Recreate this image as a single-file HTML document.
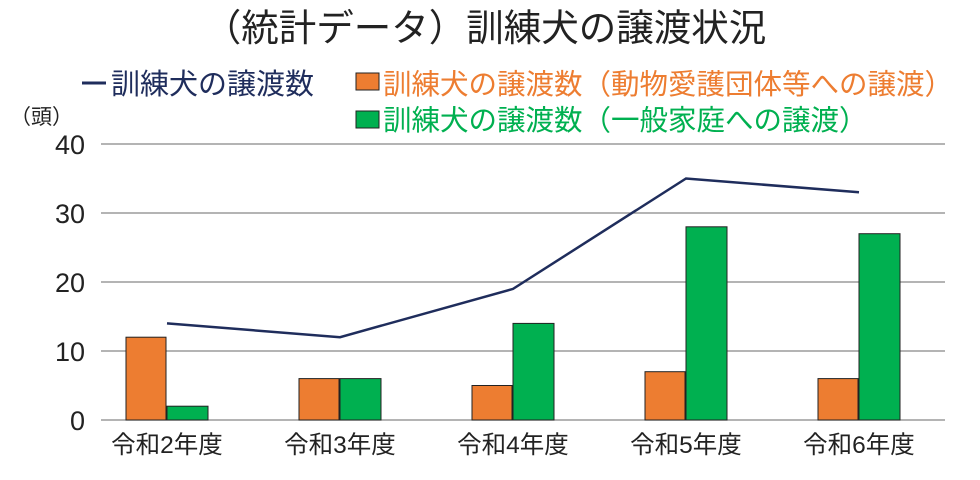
<!DOCTYPE html>
<html><head><meta charset="utf-8"><style>
body{margin:0;background:#fff;width:980px;height:475px;overflow:hidden}
svg text{font-family:"Liberation Sans","Noto Sans CJK JP",sans-serif}
</style></head><body>
<svg width="980" height="475" xmlns="http://www.w3.org/2000/svg">
<text x="485" y="41" font-size="37.5" text-anchor="middle" fill="#222">（統計データ）訓練犬の譲渡状況</text>
<line x1="82" y1="83" x2="106" y2="83" stroke="#1f2d5c" stroke-width="3"/>
<text x="111" y="94" font-size="29" fill="#1f2d5c">訓練犬の譲渡数</text>
<rect x="356" y="73" width="23" height="17" fill="#ed7d31" stroke="#222" stroke-width="1"/>
<text x="383" y="94" font-size="28.5" fill="#ed7d31">訓練犬の譲渡数（動物愛護団体等への譲渡）</text>
<rect x="356" y="111" width="23" height="17" fill="#00b050" stroke="#222" stroke-width="1"/>
<text x="383" y="130" font-size="28.5" fill="#00b050">訓練犬の譲渡数（一般家庭への譲渡）</text>
<text x="10" y="124" font-size="21" fill="#222">（頭）</text>
<g stroke="#888" stroke-width="1.3">
<line x1="101" y1="144" x2="945" y2="144"/><line x1="101" y1="213" x2="945" y2="213"/>
<line x1="101" y1="282" x2="945" y2="282"/><line x1="101" y1="351" x2="945" y2="351"/>
<line x1="101" y1="420" x2="945" y2="420"/></g>
<g font-size="27" fill="#222" text-anchor="end">
<text x="85" y="154">40</text><text x="85" y="223">30</text><text x="85" y="292">20</text><text x="85" y="361">10</text><text x="85" y="430">0</text></g>
<g stroke="#222" stroke-width="1">
<rect x="126" y="337.2" width="40" height="82.8" fill="#ed7d31"/><rect x="167" y="406.2" width="41" height="13.8" fill="#00b050"/>
<rect x="299" y="378.6" width="40" height="41.4" fill="#ed7d31"/><rect x="340" y="378.6" width="41" height="41.4" fill="#00b050"/>
<rect x="472" y="385.5" width="40" height="34.5" fill="#ed7d31"/><rect x="513" y="323.4" width="41" height="96.6" fill="#00b050"/>
<rect x="645" y="371.7" width="40" height="48.3" fill="#ed7d31"/><rect x="686" y="226.8" width="41" height="193.2" fill="#00b050"/>
<rect x="818" y="378.6" width="40" height="41.4" fill="#ed7d31"/><rect x="859" y="233.7" width="41" height="186.3" fill="#00b050"/>
</g>
<polyline points="167,323.4 340,337.2 513,288.9 686,178.5 859,192.3" fill="none" stroke="#1f2d5c" stroke-width="2.5"/>
<g font-size="24.5" fill="#222" text-anchor="middle">
<text x="167" y="453">令和2年度</text><text x="340" y="453">令和3年度</text><text x="513" y="453">令和4年度</text><text x="686" y="453">令和5年度</text><text x="859" y="453">令和6年度</text></g>
</svg>
</body></html>
